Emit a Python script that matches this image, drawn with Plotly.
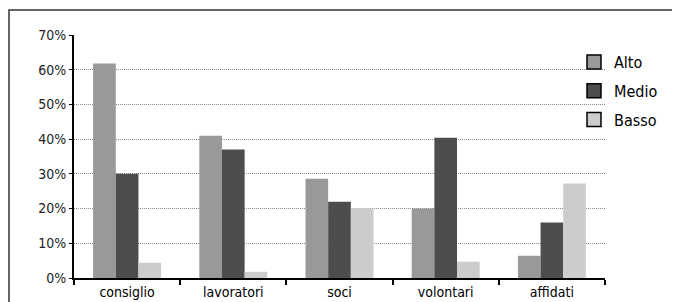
import plotly.graph_objects as go

categories = ["consiglio", "lavoratori", "soci", "volontari", "affidati"]
alto = [61.8, 41.0, 28.6, 20.0, 6.4]
medio = [30.0, 37.0, 22.0, 40.4, 16.0]
basso = [4.4, 1.8, 20.1, 4.7, 27.2]
y_ticks = [0, 10, 20, 30, 40, 50, 60, 70]
y_labels = [f"{v}%" for v in y_ticks]

series = [("Alto", alto, "#999999"), ("Medio", medio, "#4d4d4d"), ("Basso", basso, "#cccccc")]

FONT = "DejaVu Sans Condensed, Liberation Sans Narrow, sans-serif"

# page body has an 8px margin: figure is sized so the plot lands where the reference has it
W, H = 672, 294
L, T, R, B = 66, 27, 75, 24
PW, PH = W - L - R, H - T - B

fig = go.Figure()
for name, vals, col in series:
    fig.add_trace(go.Bar(x=categories, y=vals, name=name, marker=dict(color=col, line=dict(width=0)),
                         showlegend=False))
for name, vals, col in series:
    fig.add_trace(go.Scatter(x=[None], y=[None], mode="markers", name=name, legendgroup=name,
                             marker=dict(symbol="square", size=14, color=col,
                                         line=dict(color="black", width=1.5))))

fig.update_layout(
    width=W, height=H,
    margin=dict(l=L, r=R, t=T, b=B),
    paper_bgcolor="white", plot_bgcolor="white",
    barmode="group", bargap=0.36, bargroupgap=0,
    font=dict(family=FONT, size=13, color="black"),
    legend=dict(x=(574 - 8 - L) / PW, y=1 - (45 - 35) / PH, xanchor="left", yanchor="top",
                bgcolor="rgba(0,0,0,0)", font=dict(size=16, color="black"), tracegroupgap=5),
    xaxis=dict(showline=True, linecolor="black", linewidth=2, ticks="outside",
               tickson="boundaries", ticklen=5, tickwidth=2, tickcolor="black",
               showgrid=False, tickfont=dict(size=14, color="black"), automargin=False),
    yaxis=dict(range=[0, 70], tickvals=y_ticks, ticktext=y_labels, showline=True,
               linecolor="black", linewidth=2, ticks="outside", ticklen=3, tickcolor="black",
               showgrid=True, gridcolor="#888888", griddash="1px,1px", gridwidth=1,
               zeroline=False, tickfont=dict(size=14, color="#222222"), automargin=False),
    shapes=[dict(type="rect", xref="paper", yref="paper",
                 x0=(1 - L) / PW, x1=(W + 20 - L) / PW,
                 y0=-(B + 20) / PH, y1=1 + (T - 2) / PH,
                 line=dict(color="#333333", width=1.5), fillcolor="rgba(0,0,0,0)", layer="below")],
)

fig.write_html("out.html")
